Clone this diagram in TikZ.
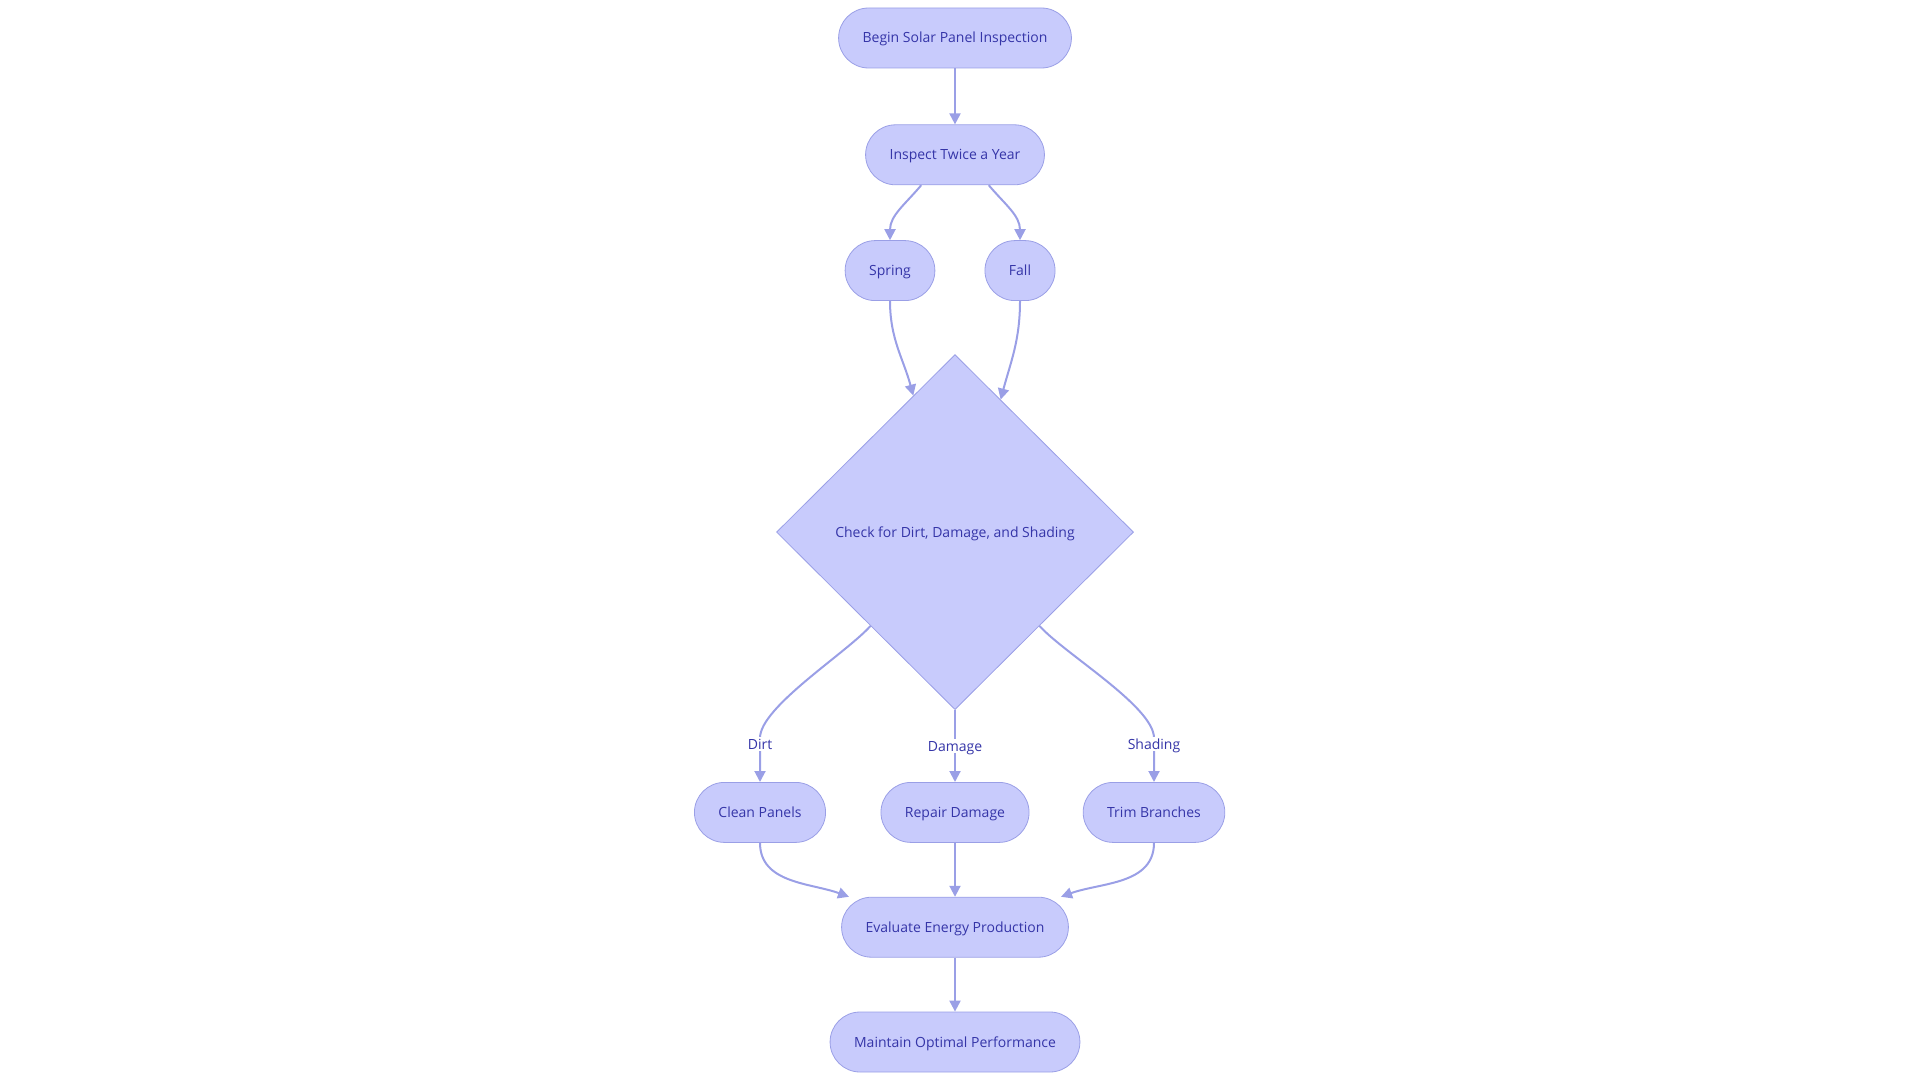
\documentclass[tikz,border=0pt]{standalone}
\usepackage{fontspec}
\setmainfont{Open Sans}
\usetikzlibrary{arrows.meta,positioning,shapes.geometric}
\definecolor{nodefill}{HTML}{C8CBFC}
\definecolor{nodeline}{HTML}{9A9FE6}
\definecolor{txtblue}{HTML}{3535A8}

\begin{document}
\begin{tikzpicture}[x=1pt,y=1pt,font=\fontsize{14}{16}\selectfont,
  pill/.style={draw=nodeline,fill=nodefill,text=txtblue,line width=0.8pt,rounded corners=30pt,minimum height=60pt,inner xsep=24pt,text height=11pt,text depth=1pt},
  chkbox/.style={diamond,draw=nodeline,fill=nodefill,text=txtblue,line width=0.8pt,aspect=1,inner sep=0pt,minimum width=357pt,minimum height=355pt,text height=11pt,text depth=1pt},
  arr/.style={draw=nodeline,line width=2pt,-{Triangle[length=11pt,width=11pt]}},
  lbl/.style={fill=white,text=txtblue,inner sep=1pt,text height=11pt,text depth=1pt}]
\useasboundingbox (0,0) rectangle (1920,-1083);
\node[pill] (begin) at (955,-38) {Begin Solar Panel Inspection};
\node[pill,below=56pt of begin] (insp) {Inspect Twice a Year};
\node[pill,below=55pt of insp,xshift=-65pt] (spr) {Spring};
\node[pill,below=55pt of insp,xshift=65pt] (fall) {Fall};
\node[chkbox,below=169pt of insp] (chk) {Check for Dirt, Damage, and Shading};
\node[pill,below=72pt of chk] (rep) {Repair Damage};
\node[pill,below=72pt of chk,xshift=-195pt] (cln) {Clean Panels};
\node[pill,below=72pt of chk,xshift=199pt] (trm) {Trim Branches};
\node[pill,below=54pt of rep] (eval) {Evaluate Energy Production};
\node[pill,below=54pt of eval] (mnt) {Maintain Optimal Performance};
\coordinate[above=44pt of cln.north] (dirtpt);
\coordinate[above=44pt of trm.north] (shadept);
\draw[arr] (begin)--(insp);
\draw[arr] (insp.222) to[out=-130,in=90] (spr.north);
\draw[arr] (insp.318) to[out=-50,in=90] (fall.north);
\draw[arr] (spr.south) to[out=-90,in=105] (chk.107.5);
\draw[arr] (fall.south) to[out=-90,in=75] (chk.71);
\draw[arr] (chk.228) to[out=-132,in=90,out looseness=0.6,in looseness=0.5] (dirtpt) -- node[lbl,pos=0.14] {Dirt} (cln.north);
\draw[arr] (chk.south) -- node[lbl] {Damage} (rep.north);
\draw[arr] (chk.312) to[out=-48,in=90,out looseness=0.6,in looseness=0.5] (shadept) -- node[lbl,pos=0.14] {Shading} (trm.north);
\draw[arr] (cln.south) to[out=-90,in=160] (eval.164);
\draw[arr] (rep)--(eval);
\draw[arr] (trm.south) to[out=-90,in=20] (eval.16);
\draw[arr] (eval)--(mnt);
\end{tikzpicture}
\end{document}
